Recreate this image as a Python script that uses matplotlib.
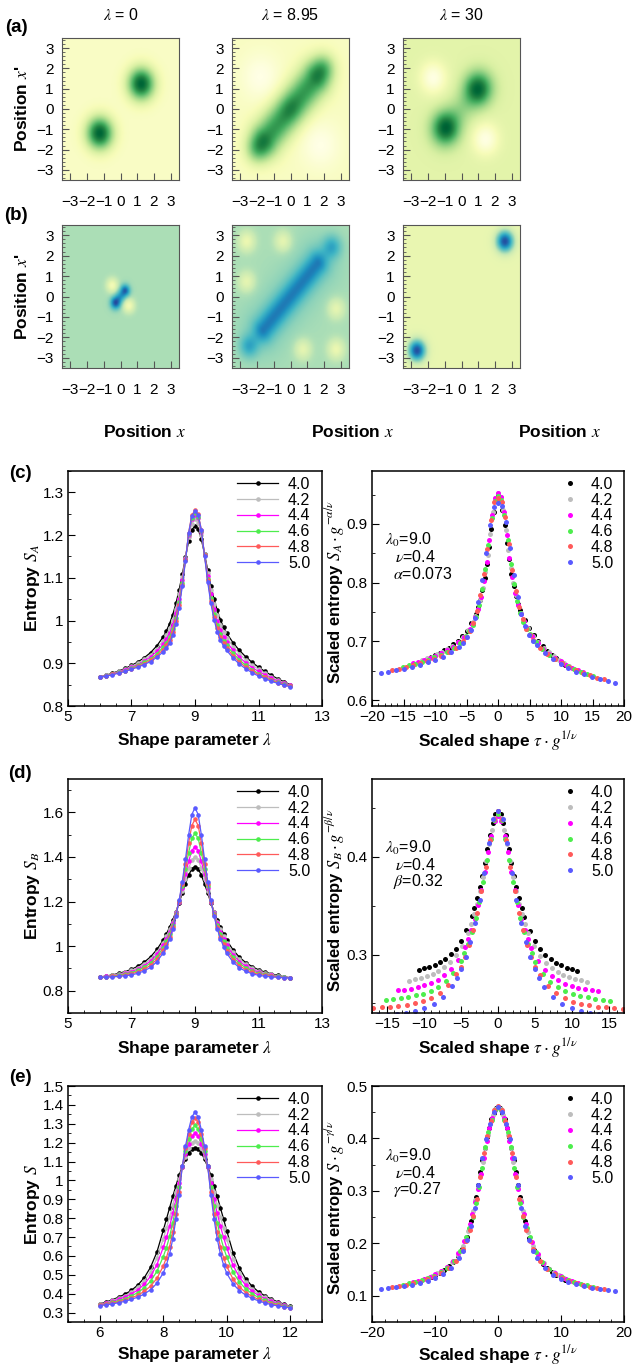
import numpy as np
import matplotlib
matplotlib.use("Agg")
import matplotlib.pyplot as plt
from matplotlib.ticker import AutoMinorLocator, FuncFormatter

plt.rcParams["font.family"] = ["Liberation Sans", "DejaVu Sans"]
plt.rcParams["mathtext.fontset"] = "stix"

W, H = 634, 1368

# ---------------- data ----------------
g_values = [4.0, 4.2, 4.4, 4.6, 4.8, 5.0]
colors = ["#000000", "#bdbdbd", "#ff00ff", "#4ded4d", "#ff5a5a", "#5a5aff"]
lam0, nu = 9.0, 0.4
alpha, beta, gamma = 0.073, 0.32, 0.27

lam = [6.0, 6.2, 6.4, 6.6, 6.8, 7.0, 7.2, 7.4, 7.6, 7.8,
       8.0, 8.1, 8.2, 8.3, 8.4, 8.5, 8.6, 8.7, 8.8, 8.9, 9.0,
       9.1, 9.2, 9.3, 9.4, 9.5, 9.6, 9.7, 9.8, 9.9, 10.0,
       10.2, 10.4, 10.6, 10.8, 11.0, 11.2, 11.4, 11.6, 11.8, 12.0]

# entropy S_A, panel (c)
sa_40 = [0.868, 0.872, 0.877, 0.882, 0.888, 0.895, 0.903, 0.913, 0.925, 0.941, 0.962, 0.976, 0.993, 1.014, 1.040, 1.072, 1.108, 1.148, 1.186, 1.212, 1.222,
         1.214, 1.190, 1.156, 1.118, 1.082, 1.050, 1.024, 1.002, 0.984, 0.970, 0.948, 0.930, 0.915, 0.902, 0.891, 0.881, 0.872, 0.864, 0.857, 0.850]
sa_42 = [0.868, 0.872, 0.876, 0.881, 0.886, 0.893, 0.900, 0.909, 0.920, 0.934, 0.953, 0.966, 0.982, 1.002, 1.028, 1.062, 1.101, 1.146, 1.195, 1.227, 1.237,
         1.229, 1.200, 1.155, 1.111, 1.072, 1.038, 1.012, 0.990, 0.973, 0.960, 0.939, 0.922, 0.908, 0.896, 0.886, 0.877, 0.869, 0.861, 0.855, 0.849]
sa_44 = [0.868, 0.871, 0.875, 0.880, 0.885, 0.891, 0.897, 0.905, 0.915, 0.928, 0.945, 0.956, 0.971, 0.990, 1.017, 1.051, 1.094, 1.144, 1.200, 1.237, 1.248,
         1.239, 1.207, 1.154, 1.104, 1.061, 1.026, 0.999, 0.978, 0.962, 0.950, 0.930, 0.914, 0.901, 0.890, 0.881, 0.873, 0.865, 0.859, 0.853, 0.848]
sa_46 = [0.867, 0.871, 0.874, 0.879, 0.883, 0.889, 0.895, 0.902, 0.910, 0.922, 0.938, 0.948, 0.962, 0.980, 1.007, 1.043, 1.088, 1.142, 1.203, 1.241, 1.252,
         1.243, 1.209, 1.153, 1.098, 1.053, 1.016, 0.989, 0.968, 0.953, 0.942, 0.923, 0.908, 0.895, 0.885, 0.876, 0.869, 0.862, 0.856, 0.851, 0.847]
sa_48 = [0.867, 0.870, 0.874, 0.878, 0.882, 0.887, 0.893, 0.899, 0.907, 0.918, 0.932, 0.942, 0.955, 0.973, 1.000, 1.036, 1.084, 1.141, 1.206, 1.247, 1.258,
         1.249, 1.213, 1.153, 1.094, 1.046, 1.009, 0.982, 0.961, 0.947, 0.936, 0.917, 0.903, 0.891, 0.882, 0.873, 0.867, 0.860, 0.855, 0.850, 0.846]
sa_50 = [0.867, 0.870, 0.873, 0.877, 0.881, 0.886, 0.891, 0.897, 0.904, 0.914, 0.927, 0.936, 0.948, 0.966, 0.993, 1.030, 1.080, 1.140, 1.205, 1.245, 1.256,
         1.247, 1.212, 1.152, 1.090, 1.040, 1.002, 0.974, 0.954, 0.940, 0.930, 0.912, 0.898, 0.887, 0.878, 0.870, 0.864, 0.858, 0.853, 0.849, 0.845]

# entropy S_B, panel (d)
sb_40 = [0.861, 0.866, 0.871, 0.878, 0.886, 0.896, 0.910, 0.928, 0.952, 0.985, 1.028, 1.055, 1.085, 1.118, 1.155, 1.195, 1.238, 1.280, 1.318, 1.347, 1.357,
         1.347, 1.318, 1.280, 1.238, 1.195, 1.155, 1.118, 1.085, 1.055, 1.026, 0.983, 0.950, 0.926, 0.908, 0.894, 0.884, 0.876, 0.869, 0.863, 0.858]
sb_42 = [0.861, 0.865, 0.869, 0.875, 0.882, 0.891, 0.904, 0.920, 0.943, 0.974, 1.016, 1.044, 1.075, 1.110, 1.151, 1.197, 1.248, 1.302, 1.349, 1.387, 1.401,
         1.387, 1.349, 1.302, 1.248, 1.197, 1.151, 1.110, 1.075, 1.044, 1.014, 0.972, 0.941, 0.918, 0.902, 0.889, 0.880, 0.873, 0.867, 0.862, 0.858]
sb_44 = [0.861, 0.864, 0.867, 0.872, 0.878, 0.886, 0.897, 0.912, 0.933, 0.963, 1.005, 1.032, 1.064, 1.102, 1.147, 1.199, 1.259, 1.324, 1.380, 1.429, 1.446,
         1.429, 1.380, 1.324, 1.259, 1.199, 1.147, 1.102, 1.064, 1.032, 1.003, 0.961, 0.931, 0.910, 0.895, 0.884, 0.876, 0.870, 0.865, 0.861, 0.858]
sb_46 = [0.860, 0.863, 0.866, 0.870, 0.875, 0.881, 0.891, 0.905, 0.924, 0.952, 0.993, 1.021, 1.054, 1.094, 1.143, 1.201, 1.269, 1.346, 1.420, 1.484, 1.506,
         1.484, 1.420, 1.346, 1.269, 1.201, 1.143, 1.094, 1.054, 1.021, 0.991, 0.950, 0.922, 0.903, 0.889, 0.879, 0.873, 0.868, 0.864, 0.860, 0.857]
sb_48 = [0.860, 0.862, 0.864, 0.867, 0.871, 0.876, 0.884, 0.897, 0.914, 0.941, 0.982, 1.009, 1.043, 1.086, 1.139, 1.203, 1.280, 1.368, 1.464, 1.541, 1.569,
         1.541, 1.464, 1.368, 1.280, 1.203, 1.139, 1.086, 1.043, 1.009, 0.980, 0.939, 0.912, 0.895, 0.882, 0.874, 0.869, 0.865, 0.862, 0.859, 0.857]
sb_50 = [0.860, 0.861, 0.862, 0.864, 0.867, 0.871, 0.878, 0.889, 0.905, 0.930, 0.970, 0.998, 1.033, 1.078, 1.135, 1.205, 1.290, 1.390, 1.500, 1.590, 1.622,
         1.590, 1.500, 1.390, 1.290, 1.205, 1.135, 1.078, 1.033, 0.998, 0.968, 0.928, 0.903, 0.887, 0.876, 0.869, 0.865, 0.862, 0.860, 0.858, 0.857]

# entropy S, panel (e)
s_40 = [0.345, 0.356, 0.368, 0.382, 0.398, 0.418, 0.446, 0.484, 0.540, 0.620, 0.735, 0.795, 0.855, 0.915, 0.972, 1.028, 1.072, 1.112, 1.145, 1.166, 1.173,
        1.166, 1.145, 1.112, 1.072, 1.028, 0.972, 0.915, 0.855, 0.795, 0.733, 0.616, 0.535, 0.478, 0.439, 0.410, 0.389, 0.372, 0.357, 0.345, 0.333]
s_42 = [0.343, 0.353, 0.364, 0.376, 0.390, 0.408, 0.433, 0.467, 0.516, 0.587, 0.690, 0.746, 0.806, 0.870, 0.937, 1.007, 1.073, 1.126, 1.170, 1.200, 1.208,
        1.200, 1.170, 1.126, 1.073, 1.007, 0.937, 0.870, 0.806, 0.746, 0.688, 0.583, 0.511, 0.461, 0.426, 0.400, 0.381, 0.366, 0.353, 0.342, 0.331]
s_44 = [0.342, 0.350, 0.359, 0.370, 0.383, 0.399, 0.420, 0.450, 0.492, 0.554, 0.645, 0.698, 0.757, 0.825, 0.901, 0.987, 1.073, 1.139, 1.194, 1.234, 1.249,
        1.234, 1.194, 1.139, 1.073, 0.987, 0.901, 0.825, 0.757, 0.698, 0.643, 0.550, 0.487, 0.444, 0.413, 0.391, 0.374, 0.360, 0.348, 0.339, 0.330]
s_46 = [0.340, 0.347, 0.354, 0.363, 0.374, 0.388, 0.406, 0.431, 0.466, 0.518, 0.596, 0.644, 0.703, 0.776, 0.862, 0.964, 1.074, 1.154, 1.221, 1.271, 1.291,
        1.271, 1.221, 1.154, 1.074, 0.964, 0.862, 0.776, 0.703, 0.644, 0.594, 0.514, 0.461, 0.425, 0.399, 0.380, 0.365, 0.353, 0.343, 0.336, 0.328]
s_48 = [0.338, 0.343, 0.350, 0.357, 0.366, 0.378, 0.392, 0.412, 0.440, 0.481, 0.546, 0.591, 0.649, 0.726, 0.823, 0.941, 1.075, 1.169, 1.248, 1.309, 1.332,
        1.309, 1.248, 1.169, 1.075, 0.941, 0.823, 0.726, 0.649, 0.591, 0.544, 0.477, 0.435, 0.406, 0.385, 0.370, 0.357, 0.347, 0.339, 0.332, 0.326]
s_50 = [0.337, 0.341, 0.346, 0.352, 0.360, 0.370, 0.382, 0.398, 0.421, 0.455, 0.510, 0.552, 0.610, 0.690, 0.795, 0.925, 1.075, 1.180, 1.268, 1.336, 1.362,
        1.336, 1.268, 1.180, 1.075, 0.925, 0.795, 0.690, 0.610, 0.552, 0.508, 0.451, 0.416, 0.392, 0.375, 0.362, 0.351, 0.342, 0.335, 0.330, 0.325]

# density maps: background level, blobs (x, y, width, height) and diagonal ridges (half length, width, height)
map_titles = [r"$\lambda$ = 0", r"$\lambda$ = 8.95", r"$\lambda$ = 30"]
a_bg = [0.09, 0.10, 0.21]
a_blobs = [
    [(-1.25, -1.2, 0.55, 0.80), (1.25, 1.25, 0.55, 0.80)],
    [(-2.0, -2.0, 0.5, 0.32), (2.0, 2.05, 0.5, 0.32), (0.0, 0.0, 0.45, 0.1),
     (-1.8, 1.6, 0.8, -0.1), (1.8, -1.8, 0.8, -0.1)],
    [(-1.0, -1.0, 0.6, 0.55), (1.05, 1.05, 0.6, 0.55),
     (-1.7, 1.55, 0.55, -0.2), (1.45, -1.5, 0.55, -0.2)],
]
a_ridges = [[], [(2.0, 0.65, 0.58)], [(1.0, 0.55, 0.18)]]
b_bg = [0.30, 0.30, 0.14]
b_blobs = [
    [(-0.32, -0.35, 0.22, 0.24), (0.3, 0.33, 0.2, 0.18),
     (-0.5, 0.55, 0.24, -0.2), (0.5, -0.45, 0.24, -0.2)],
    [(-2.5, -2.45, 0.38, 0.22), (2.5, 2.45, 0.38, 0.22),
     (-2.64, 2.72, 0.35, -0.17), (-0.45, 2.72, 0.35, -0.15), (-2.64, 0.73, 0.35, -0.15),
     (2.75, -0.6, 0.35, -0.15), (0.75, -2.6, 0.35, -0.15), (2.75, -2.6, 0.35, -0.17)],
    [(-2.68, -2.66, 0.35, 0.65), (2.62, 2.72, 0.35, 0.65)],
]
b_ridges = [[(0.35, 0.2, 0.3)], [(2.3, 0.42, 0.3), (2.3, 1.0, 0.08)], []]


def fmt(v, pos=None):
    return f"{v:g}".replace("-", "\u2212")


def rect(x0, y0, x1, y1):
    return [x0 / W, 1 - y1 / H, (x1 - x0) / W, (y1 - y0) / H]


def ftext(x, y, s, **kw):
    fig.text(x / W, 1 - y / H, s, ha="center", va="center", **kw)


grid = np.linspace(-3.5, 3.5, 141)
X, Y = np.meshgrid(grid, grid)


def density(bg, blobs, ridges):
    z = np.full_like(X, bg)
    for x0, y0, s, a in blobs:
        z += a * np.exp(-((X - x0) ** 2 + (Y - y0) ** 2) / (2 * s * s))
    u = (X + Y) / np.sqrt(2)
    v = (Y - X) / np.sqrt(2)
    for half, s, a in ridges:
        ex = np.clip(np.abs(u) - half, 0, None)
        z += a * np.exp(-(v ** 2 + ex ** 2) / (2 * s * s))
    return z


fig = plt.figure(figsize=(W / 100, H / 100), dpi=100)

# ---------------- rows (a) and (b) ----------------
cols = [(62, 179), (232, 349), (403, 520)]
rows = [(38, 180, "YlGn", a_bg, a_blobs, a_ridges), (225, 368, "YlGnBu", b_bg, b_blobs, b_ridges)]
for r, (top, bot, cmap, bgs, blobs, ridges) in enumerate(rows):
    for c, (x0, x1) in enumerate(cols):
        ax = fig.add_axes(rect(x0, top, x1, bot))
        z = density(bgs[c], blobs[c], ridges[c])
        ax.imshow(z, extent=(-3.5, 3.5, -3.5, 3.5), origin="lower", cmap=cmap,
                  vmin=0, vmax=1, aspect="auto", interpolation="bilinear")
        ax.set_xlim(-3.5, 3.5)
        ax.set_ylim(-3.5, 3.5)
        ax.set_xticks(range(-3, 4))
        ax.set_yticks(range(-3, 4))
        ax.yaxis.set_minor_locator(AutoMinorLocator(5))
        ax.xaxis.set_major_formatter(FuncFormatter(fmt))
        ax.yaxis.set_major_formatter(FuncFormatter(fmt))
        ax.tick_params(which="both", direction="in", color="#555555", labelsize=11)
        ax.tick_params(which="major", length=5)
        ax.tick_params(which="minor", length=2.5)
        ax.xaxis.set_tick_params(which="major", pad=11)
        ax.yaxis.set_tick_params(which="major", pad=6)
        for sp in ax.spines.values():
            sp.set_color("#555555")
        if r == 0:
            ftext((x0 + x1) / 2, 15, map_titles[c], fontsize=11.5)
    ftext(22, (top + bot) / 2, "Position $x$'", fontsize=12.5, fontweight="bold", rotation=90)

for xc in [145, 353, 560]:
    ftext(xc, 432, "Position $x$", fontsize=12.5, fontweight="bold")

ftext(16, 27, "(a)", fontsize=13.5, fontweight="bold")
ftext(16, 216, "(b)", fontsize=13.5, fontweight="bold")

# ---------------- rows (c), (d), (e) ----------------
panels = [
    dict(series=[sa_40, sa_42, sa_44, sa_46, sa_48, sa_50], top=471, bot=706, label="(c)", ly=473,
         ylim=(0.8, 1.35), yticks=[0.8, 0.9, 1.0, 1.1, 1.2, 1.3], xticks=[5, 7, 9, 11, 13],
         ylab=r"Entropy $S_A$", expo=alpha, sylim=(0.59, 0.99), syticks=[0.6, 0.7, 0.8, 0.9],
         sxlim=(-20, 20), sxticks=list(range(-20, 21, 5)),
         sylab=r"Scaled entropy $S_A\cdot g^{-\alpha/\nu}$", ename=r"$\alpha$=0.073", xl=741),
    dict(series=[sb_40, sb_42, sb_44, sb_46, sb_48, sb_50], top=779, bot=1013, label="(d)", ly=774,
         ylim=(0.7, 1.75), yticks=[0.8, 1.0, 1.2, 1.4, 1.6], xticks=[5, 7, 9, 11, 13],
         ylab=r"Entropy $S_B$", expo=beta, sylim=(0.24, 0.48), syticks=[0.3, 0.4],
         sxlim=(-17, 17), sxticks=list(range(-15, 16, 5)),
         sylab=r"Scaled entropy $S_B\cdot g^{-\beta/\nu}$", ename=r"$\beta$=0.32", xl=1048),
    dict(series=[s_40, s_42, s_44, s_46, s_48, s_50], top=1086, bot=1322, label="(e)", ly=1078,
         ylim=(0.25, 1.5), yticks=[0.3, 0.4, 0.5, 0.6, 0.7, 0.8, 0.9, 1.0, 1.1, 1.2, 1.3, 1.4, 1.5],
         xticks=[6, 8, 10, 12],
         ylab=r"Entropy $S$", expo=gamma, sylim=(0.05, 0.5), syticks=[0.1, 0.2, 0.3, 0.4, 0.5],
         sxlim=(-20, 20), sxticks=[-20, -10, 0, 10, 20],
         sylab=r"Scaled entropy $S\cdot g^{-\gamma/\nu}$", ename=r"$\gamma$=0.27", xl=1355),
]

lam_arr = np.array(lam)
tau = (lam_arr - lam0) / lam0


def style(ax):
    ax.xaxis.set_major_formatter(FuncFormatter(fmt))
    ax.yaxis.set_major_formatter(FuncFormatter(fmt))
    ax.tick_params(which="both", direction="in", labelsize=11, top=False, right=False)
    ax.tick_params(which="major", length=5, pad=3)
    ax.tick_params(which="minor", length=2.5)
    for sp in ax.spines.values():
        sp.set_linewidth(1.1)


for p in panels:
    top, bot = p["top"], p["bot"]
    # raw entropy vs lambda
    ax = fig.add_axes(rect(68, top, 322, bot))
    for g, ys, col in zip(g_values, p["series"], colors):
        ax.plot(lam, ys, color=col, lw=0.9, marker="o", ms=3.3, mew=0, label=f"{g:.1f}")
    ax.set_xlim(5, 13)
    ax.set_ylim(*p["ylim"])
    ax.set_xticks(p["xticks"])
    ax.set_yticks(p["yticks"])
    ax.xaxis.set_minor_locator(AutoMinorLocator(4 if p["xticks"][1] - p["xticks"][0] == 2 else 2))
    ax.yaxis.set_minor_locator(AutoMinorLocator(2))
    style(ax)
    ax.legend(loc="upper right", bbox_to_anchor=(0.955, 0.975), frameon=False, fontsize=11.5,
              handlelength=2.6, handletextpad=0.6, labelspacing=0.05, borderpad=0, borderaxespad=0)
    ftext(33, (top + bot) / 2, p["ylab"], fontsize=12.5, fontweight="bold", rotation=90)
    ftext(195, p["xl"], r"Shape parameter $\lambda$", fontsize=12.5, fontweight="bold")
    ftext(20, p["ly"], p["label"], fontsize=13.5, fontweight="bold")

    # scaled collapse
    ax = fig.add_axes(rect(372, top, 624, bot))
    for g, ys, col in zip(g_values, p["series"], colors):
        xs = tau * g ** (1 / nu)
        yv = np.array(ys) * g ** (-p["expo"] / nu)
        ax.plot(xs, yv, ls="none", marker="o", ms=3.6, mew=0, color=col, label=f"{g:.1f}")
    ax.set_xlim(*p["sxlim"])
    ax.set_ylim(*p["sylim"])
    ax.set_xticks(p["sxticks"])
    ax.set_yticks(p["syticks"])
    ax.xaxis.set_minor_locator(AutoMinorLocator(5))
    ax.yaxis.set_minor_locator(AutoMinorLocator(2))
    style(ax)
    ax.legend(loc="upper right", bbox_to_anchor=(0.958, 0.975), frameon=False, fontsize=11.5,
              handlelength=0.8, handletextpad=0.9, labelspacing=0.05, borderpad=0, borderaxespad=0)
    ax.text(0.053, 0.705, r"$\lambda_0$=9.0", transform=ax.transAxes, fontsize=11.5, va="center")
    ax.text(0.092, 0.633, r"$\nu$=0.4", transform=ax.transAxes, fontsize=11.5, va="center")
    ax.text(0.083, 0.561, p["ename"], transform=ax.transAxes, fontsize=11.5, va="center")
    ftext(335, (top + bot) / 2 + 4, p["sylab"], fontsize=12, fontweight="bold", rotation=90)
    ftext(498, p["xl"], r"Scaled shape $\tau\cdot g^{1/\nu}$", fontsize=12.5, fontweight="bold")

fig.savefig("out.png", dpi=100)
